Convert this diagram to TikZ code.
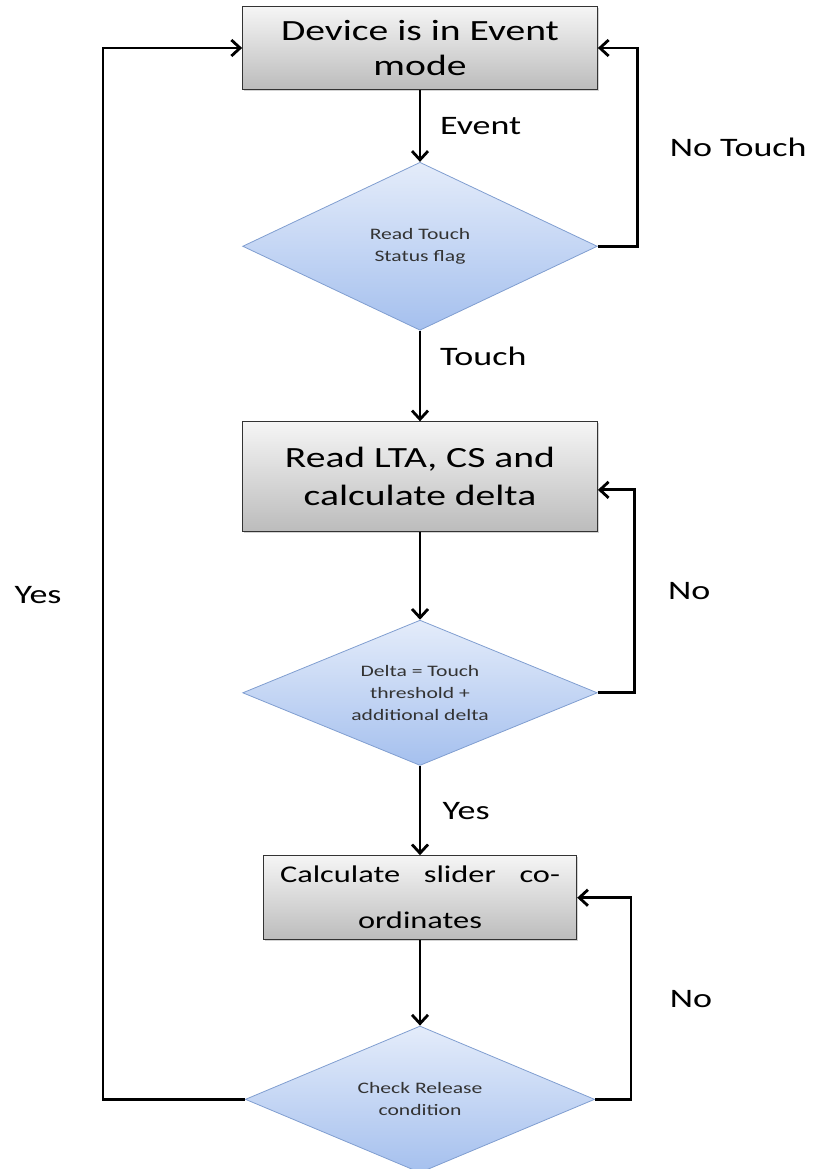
\documentclass[tikz,border=0pt]{standalone}
\usepackage{fontspec}
\setmainfont[FakeStretch=1.35]{Carlito}
\usepackage{tikz}
\usetikzlibrary{shapes.geometric, arrows.meta, positioning, calc, shadows}
\definecolor{boxtop}{RGB}{245,245,245}
\definecolor{boxbottom}{RGB}{188,188,188}
\definecolor{decisiontop}{RGB}{228,236,250}
\definecolor{decisionbottom}{RGB}{165,192,238}
\definecolor{decisionline}{RGB}{128,158,208}

\begin{document}
\begin{tikzpicture}[
    x=0.75pt, y=-0.75pt,
    process/.style={draw=black!80, line width=0.8pt, top color=boxtop, bottom color=boxbottom, minimum width=266pt, minimum height=62pt, align=center, inner sep=2pt, drop shadow={shadow xshift=1.2pt, shadow yshift=-1.2pt, opacity=0.35}},
    decision/.style={diamond, aspect=2.4, draw=decisionline, line width=0.6pt, top color=decisiontop, bottom color=decisionbottom, minimum width=266pt, minimum height=126pt, inner sep=0pt, align=center, font=\fontsize{12}{16.5}\selectfont, text=black!80},
    arrow/.style={-{Straight Barb[length=6.5pt, width=12pt]}, line width=2.1pt},
    branch/.style={font=\fontsize{20}{24}\selectfont, inner sep=0pt}
]
    \useasboundingbox (0,0) rectangle (818,1169);

    % Main entities
    \node[process, font=\fontsize{22}{26}\selectfont] (event) at (420,48) {Device is in Event\\mode};
    \node[decision, below=54pt of event] (status) {Read Touch\\Status flag};
    \node[process, minimum height=82pt, font=\fontsize{22}{28.5}\selectfont, below=68pt of status] (delta) {Read LTA, CS and\\calculate delta};
    \node[decision, minimum height=109pt, below=66pt of delta] (threshold) {Delta = Touch\\threshold +\\additional delta};
    \node[process, minimum width=235pt, minimum height=63pt, font=\fontsize{18}{34.5}\selectfont, below=67pt of threshold] (coords) {\makebox[210pt][s]{Calculate slider co-}\\ordinates};
    \node[decision, minimum width=262pt, minimum height=110pt, below=64pt of coords] (release) {Check Release\\condition};

    % Main flow
    \draw[arrow] (event) -- (status) node[branch, midway, right=14pt] {Event};
    \draw[arrow] (status) -- (delta) node[branch, pos=0.28, right=14pt] {Touch};
    \draw[arrow] (delta) -- (threshold);
    \draw[arrow] (threshold) -- (coords) node[branch, midway, right=16pt] {Yes};
    \draw[arrow] (coords) -- (release);

    % Loops back
    \draw[arrow] (status.east) -- ++(40,0) |- (event.east) node[branch, pos=0.25, right=23pt] {No Touch};
    \draw[arrow] (threshold.east) -- ++(37,0) |- ([yshift=-10pt]delta.east) node[branch, pos=0.25, right=24pt] {No};
    \draw[arrow] (release.east) -- ++(36,0) |- (coords.east) node[branch, pos=0.25, right=28pt] {No};
    \draw[arrow] (release.west) -- ++(-142,0) |- (event.west) node[branch, pos=0.24, left=30pt] {Yes};
\end{tikzpicture}
\end{document}
